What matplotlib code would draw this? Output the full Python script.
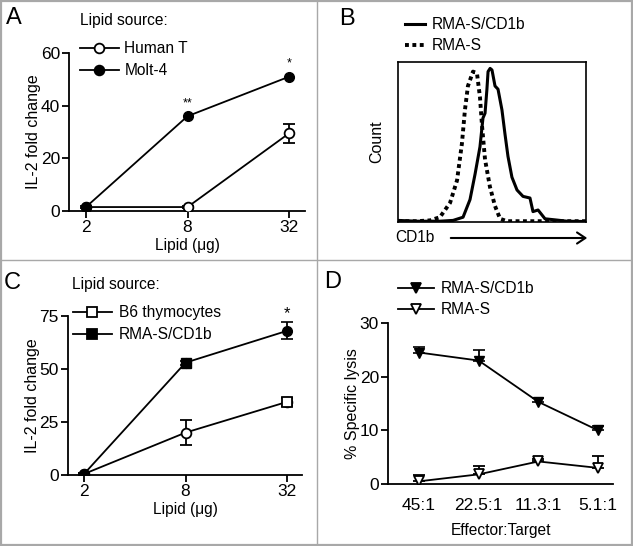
import matplotlib.pyplot as plt
from matplotlib.lines import Line2D
from matplotlib.patches import FancyArrowPatch, Rectangle
import numpy as np

plt.rcParams['font.family'] = ['Liberation Sans', 'DejaVu Sans']
plt.rcParams['font.size'] = 11

# Panel A
lipid_ug = ['2', '8', '32']
human_t = [1.5, 1.5, 29.5]
human_t_err = [0.5, 0.5, 3.5]
molt4 = [1.5, 36.0, 51.0]
molt4_err = [0.3, 0.5, 0.5]
sig_a = ['', '**', '*']

# Panel B (histogram: channel vs count, % of max)
rmas_ch = [0, 100, 170, 223, 277, 314, 340, 356, 372, 399, 420, 436, 447, 463, 489, 516, 543, 580, 700, 1000]
rmas_cnt = [0.5, 0.5, 1, 3, 12, 26, 49, 70, 85, 94, 93, 78, 60, 39, 22, 10, 2, 0.5, 0.5, 0.5]
cd1b_ch = [0, 100, 223, 293, 346, 383, 410, 436, 452, 463, 473, 479, 490, 500, 516, 532, 553, 569,
           585, 606, 633, 665, 702, 718, 745, 782, 846, 899, 1000]
cd1b_cnt = [1, 0.5, 0.5, 1, 3, 14, 30, 47, 65, 68, 83, 94, 96, 95, 85, 83, 70, 55, 41, 28, 20, 16,
            15, 6.5, 7.5, 2, 1.2, 0.5, 0.3]

# Panel C
b6 = [0.5, 20.0, 34.5]
b6_err = [0.5, 6.0, 2.0]
rmas_cd1b = [0.5, 53.0, 68.0]
rmas_cd1b_err = [0.5, 1.0, 4.0]
sig_c = ['', '', '*']

# Panel D
et_ratio = ['45:1', '22.5:1', '11.3:1', '5.1:1']
lysis_cd1b = [24.5, 23.0, 15.3, 10.0]
lysis_cd1b_err = [1.0, 2.0, 0.8, 0.8]
lysis_rmas = [0.5, 1.8, 4.2, 3.0]
lysis_rmas_err = [1.2, 1.5, 0.5, 2.2]

W, H = 633, 546
fig = plt.figure(figsize=(W / 100, H / 100), dpi=100)


def rect(x0, y0, x1, y1):
    return [x0 / W, 1 - y1 / H, (x1 - x0) / W, (y1 - y0) / H]


def prism(ax):
    for s in ['top', 'right']:
        ax.spines[s].set_visible(False)
    for s in ['left', 'bottom']:
        ax.spines[s].set_linewidth(1.3)
    ax.tick_params(direction='out', length=5, width=1.3, labelsize=12.5, pad=1.5)


lw = 1.3
ms = 7
xlab_fs = 11.2
ylab_fs = 11.5
leg_fs = 11.2
letter_fs = 17


def handle(marker, filled):
    return Line2D([], [], color='black', lw=lw, marker=marker, ms=ms,
                  mfc='black' if filled else 'white', mec='black', mew=1.3)


# ---- A
axA = fig.add_axes(rect(69, 53, 305, 211))
x = np.arange(len(lipid_ug))
axA.errorbar(x, human_t, yerr=human_t_err, color='black', lw=lw, marker='o', ms=ms,
             mfc='white', mec='black', mew=1.3, capsize=4, capthick=1.2, zorder=3)
axA.errorbar(x, molt4, yerr=molt4_err, color='black', lw=lw, marker='o', ms=ms,
             mfc='black', mec='black', capsize=3, capthick=1.0, zorder=4)
for xi, yi, s in zip(x, molt4, sig_a):
    if s:
        axA.text(xi, yi + 5, s, ha='center', va='center', fontsize=9)
axA.set_xlim(-0.167, 2.157)
axA.set_ylim(0, 60)
axA.set_yticks([0, 20, 40, 60])
axA.set_xticks(x)
axA.set_xticklabels(lipid_ug)
axA.set_xlabel('Lipid (\u03bcg)', fontsize=xlab_fs, labelpad=2)
axA.set_ylabel('IL-2 fold change', fontsize=ylab_fs, labelpad=0)
prism(axA)
axA.legend([handle('o', False), handle('o', True)], ['Human T', 'Molt-4'], loc='upper left',
           bbox_to_anchor=(80 / W, 1 - 41 / H), bbox_transform=fig.transFigure,
           frameon=False, borderpad=0, borderaxespad=0, handlelength=2.5, handletextpad=0.35,
           labelspacing=0.45, fontsize=leg_fs)
fig.text(80 / W, 1 - 21 / H, 'Lipid source:', fontsize=leg_fs, va='center')
fig.text(6 / W, 1 - 18 / H, 'A', fontsize=letter_fs, va='center')

# ---- B
axB = fig.add_axes(rect(398, 62, 586, 222))
axB.plot(cd1b_ch, cd1b_cnt, color='black', lw=2.2, label='RMA-S/CD1b')
axB.plot(rmas_ch, rmas_cnt, color='black', lw=2.8, ls=(0, (1, 0.9)), label='RMA-S')
axB.set_xlim(0, 1000)
axB.set_ylim(0, 100)
axB.set_xticks([])
axB.set_yticks([])
for s in axB.spines.values():
    s.set_linewidth(1.2)
axB.set_ylabel('Count', fontsize=ylab_fs, labelpad=10)
axB.legend(loc='upper left', bbox_to_anchor=(405 / W, 1 - 17 / H), bbox_transform=fig.transFigure,
           frameon=False, borderpad=0, borderaxespad=0, handlelength=1.3, handletextpad=0.45,
           labelspacing=0.4, fontsize=leg_fs)
fig.text(395 / W, 1 - 238 / H, 'CD1b', fontsize=leg_fs, va='center')
fig.add_artist(FancyArrowPatch(
    (448 / W, 1 - 238 / H), (590 / W, 1 - 238 / H), transform=fig.transFigure,
    arrowstyle='->,head_length=6,head_width=4', lw=1.5, color='black'))
fig.text(339 / W, 1 - 19 / H, 'B', fontsize=letter_fs, va='center')

# ---- C
axC = fig.add_axes(rect(68, 316, 302, 475))
axC.errorbar(x, b6, yerr=b6_err, color='black', lw=lw, marker='o', ms=ms, mfc='white',
             mec='black', mew=1.3, capsize=4, capthick=1.2, zorder=3)
axC.errorbar(x, rmas_cd1b, yerr=rmas_cd1b_err, color='black', lw=lw, marker='o', ms=ms,
             mfc='black', mec='black', capsize=4, capthick=1.2, zorder=4)
axC.plot(x[2], b6[2], ls='none', marker='s', ms=6.5, mfc='white', mec='black', mew=1.3, zorder=5)
axC.plot(x[1], rmas_cd1b[1], ls='none', marker='s', ms=6.5, mfc='black', mec='black', zorder=5)
for xi, yi, e, s in zip(x, rmas_cd1b, rmas_cd1b_err, sig_c):
    if s:
        axC.text(xi, yi + e + 4, s, ha='center', va='center', fontsize=12)
axC.set_xlim(-0.158, 2.147)
axC.set_ylim(0, 75)
axC.set_yticks([0, 25, 50, 75])
axC.set_xticks(x)
axC.set_xticklabels(lipid_ug)
axC.set_xlabel('Lipid (\u03bcg)', fontsize=xlab_fs, labelpad=2)
axC.set_ylabel('IL-2 fold change', fontsize=ylab_fs, labelpad=0)
prism(axC)
axC.legend([handle('s', False), handle('s', True)], ['B6 thymocytes', 'RMA-S/CD1b'], loc='upper left',
           bbox_to_anchor=(73 / W, 1 - 305 / H), bbox_transform=fig.transFigure,
           frameon=False, borderpad=0, borderaxespad=0, handlelength=2.5, handletextpad=0.45,
           labelspacing=0.45, fontsize=leg_fs)
fig.text(72 / W, 1 - 285 / H, 'Lipid source:', fontsize=leg_fs, va='center')
fig.text(4 / W, 1 - 283 / H, 'C', fontsize=letter_fs, va='center')

# ---- D
axD = fig.add_axes(rect(388, 323, 613, 484))
xd = np.arange(len(et_ratio))
zero = np.zeros(len(xd))
axD.errorbar(xd, lysis_cd1b, yerr=[zero, lysis_cd1b_err], color='black', lw=lw, marker='v',
             ms=ms, mfc='black', mec='black', capsize=4, capthick=1.2, zorder=4)
axD.errorbar(xd, lysis_rmas, yerr=[zero, lysis_rmas_err], color='black', lw=lw, marker='v',
             ms=ms, mfc='white', mec='black', mew=1.3, capsize=4, capthick=1.2, zorder=3)
axD.set_xlim(-0.52, 3.25)
axD.set_ylim(0, 30)
axD.set_yticks([0, 10, 20, 30])
axD.set_xticks(xd)
axD.set_xticklabels(et_ratio)
axD.set_xlabel('Effector:Target', fontsize=xlab_fs, labelpad=7)
axD.set_ylabel('% Specific lysis', fontsize=ylab_fs, labelpad=0)
prism(axD)
axD.tick_params(axis='x', length=0, pad=10)
axD.legend([handle('v', True), handle('v', False)], ['RMA-S/CD1b', 'RMA-S'], loc='upper left',
           bbox_to_anchor=(398 / W, 1 - 281 / H), bbox_transform=fig.transFigure,
           frameon=False, borderpad=0, borderaxespad=0, handlelength=2.3, handletextpad=0.45,
           labelspacing=0.4, fontsize=leg_fs)
fig.text(324 / W, 1 - 282 / H, 'D', fontsize=letter_fs, va='center')

# panel borders
gray = '#a8a8a8'
fig.add_artist(Line2D([316.5 / W, 316.5 / W], [0, 1], color=gray, lw=1, transform=fig.transFigure))
fig.add_artist(Line2D([0, 1], [1 - 260 / H, 1 - 260 / H], color=gray, lw=1, transform=fig.transFigure))
fig.add_artist(Rectangle((0.001, 0.002), 0.997, 0.996, fill=False,
                         ec=gray, lw=1.6, transform=fig.transFigure))

fig.savefig('out.png', dpi=100)
